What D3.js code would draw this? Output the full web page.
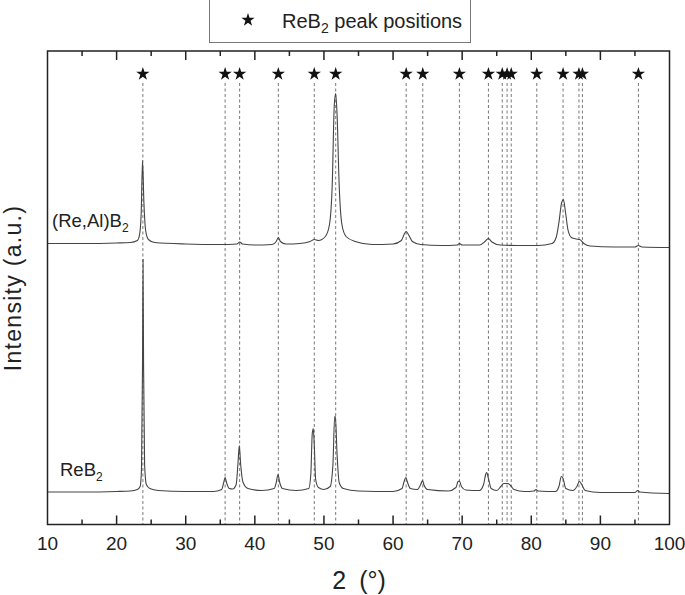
<!DOCTYPE html>
<html><head><meta charset="utf-8">
<script src="https://cdn.jsdelivr.net/npm/d3@7"></script>
<style>
body{margin:0;background:#fff;}
svg{display:block;font-family:"Liberation Sans",Arial,Helvetica,sans-serif;}
</style></head>
<body><svg id="c" width="685" height="595"></svg>
<script>
// ---- data ----
const xTicksMajor = [10,20,30,40,50,60,70,80,90,100];
const xTicksMinor = [15,25,35,45,55,65,75,85,95];
const peakPositions = [23.8,35.7,37.8,43.4,48.6,51.7,61.9,64.3,69.6,73.8,75.8,76.5,77.1,80.8,84.6,86.9,87.4,95.5];
// ReB2 pattern [2theta, intensity a.u.]
const reb2 = [[10,32.5],[15,32.5],[20,33],[22,33.5],[23,35],[23.4,38],[23.6,55],[23.75,160],[23.82,265],[23.9,160],[24.05,60],[24.3,40],[24.8,36],[26,34],[30,33],[34,33],
[35.2,35],[35.5,42],[35.7,47],[35.9,42],[36.3,36],[36.8,35.5],[37.3,40],[37.55,60],[37.75,79],[37.95,60],[38.3,42],[39,36],[41,34],[42.8,36],[43.1,42],[43.35,50],[43.6,42],[44,36],[46,34],
[47.8,36],[48.1,50],[48.3,90],[48.45,96],[48.6,80],[48.8,45],[49.2,37],[50,35],[50.9,38],[51.3,60],[51.55,108],[51.65,108],[51.9,70],[52.2,42],[52.8,36],[55,33.5],[60,33],
[61.3,36],[61.6,43],[61.85,47],[62.1,42],[62.5,36],[63.5,35],[64,40],[64.25,44],[64.5,39],[65,35],[68,33.5],[69.1,37],[69.4,43],[69.6,43.5],[69.9,38],[70.5,34.5],[72.5,34],
[73.1,40],[73.4,50],[73.55,52],[73.8,46],[74.2,36],[75,34],[75.6,38],[76,41],[76.6,41],[77,39],[77.5,35],[79,33],[80.4,33.5],[80.7,35],[81,33.5],[83.5,33],[84,38],[84.35,48],[84.6,46],[85,36],[86,34],
[86.6,38],[86.95,43],[87.3,40],[87.8,34],[90,32],[95,32],[95.4,34],[95.7,32.5],[100,31]];
// (Re,Al)B2 pattern [2theta, intensity a.u.]
const realb2 = [[10,281],[15,281],[20,281.5],[22,282],[23,284],[23.3,289],[23.55,310],[23.75,364],[23.95,322],[24.2,294],[24.6,285],[25.5,282],[30,280.5],[35,280],[37.4,280.5],[37.8,282.5],[38.2,280.5],[40,279.5],
[42.5,280],[43.1,283],[43.4,287],[43.7,283],[44.5,280.5],[46.5,281],[48,283],[48.6,285],[49.2,284],[50.2,288],[50.8,300],[51.2,340],[51.5,420],[51.7,431],[51.9,410],[52.2,340],[52.6,300],[53.2,288],[54.5,283],
[57,280],[60,280.5],[61.2,284],[61.6,290],[61.9,293],[62.3,289],[62.8,283],[64,280],[67,279],[69.3,279.5],[69.6,281],[70,279.5],[72.5,279.5],[73.3,283],[73.8,286],[74.3,282.5],[75.5,279.5],[78,279],[81,279],
[83,281],[83.6,287],[84,302],[84.4,322],[84.65,325],[84.9,315],[85.3,295],[85.8,287],[86.5,285.5],[87,285],[87.6,281],[88.5,278.5],[92,277.5],[95,277.5],[95.5,279],[96,277.5],[100,277]];
const seriesLabels = ["(Re,Al)B", "ReB"];
const legendLabel = "ReB";

// ---- layout ----
const svg = d3.select("#c");
const L = 47.5, R = 669.5, T = 51, B = 524.5;
const x = d3.scaleLinear().domain([10,100]).range([L,R]);
const y = d3.scaleLinear().domain([0,473.5]).range([B,T]);

// dashed peak lines
svg.append("g").selectAll("line").data(peakPositions).join("line")
  .attr("x1", d=>x(d)).attr("x2", d=>x(d)).attr("y1", 83).attr("y2", B)
  .attr("stroke","#555").attr("stroke-width",0.8).attr("stroke-dasharray","3,2.5");

// stars
svg.append("g").selectAll("path").data(peakPositions).join("path")
  .attr("d", d3.symbol(d3.symbolStar, 55))
  .attr("transform", d=>`translate(${x(d)},74)`).attr("fill","#111");

// traces
const line = d3.line().x(d=>x(d[0])).y(d=>y(d[1])).curve(d3.curveMonotoneX);
[reb2, realb2].forEach(s=>{
  svg.append("path").datum(s).attr("d", line).attr("fill","none")
    .attr("stroke","#444").attr("stroke-width",1.1);
});

// axes
const ax = svg.append("g").attr("stroke","#222").attr("fill","none");
ax.append("rect").attr("x",L).attr("y",T).attr("width",R-L).attr("height",B-T).attr("stroke-width",1.5);
const tickG = svg.append("g").attr("stroke","#222").attr("stroke-width",1.5);
xTicksMajor.slice(1,-1).forEach(v=>{
  tickG.append("line").attr("x1",x(v)).attr("x2",x(v)).attr("y1",B).attr("y2",B-9);
  tickG.append("line").attr("x1",x(v)).attr("x2",x(v)).attr("y1",T).attr("y2",T+9);
});
xTicksMinor.forEach(v=>{
  tickG.append("line").attr("x1",x(v)).attr("x2",x(v)).attr("y1",B).attr("y2",B-5);
  tickG.append("line").attr("x1",x(v)).attr("x2",x(v)).attr("y1",T).attr("y2",T+5);
});
svg.append("g").selectAll("text").data(xTicksMajor).join("text")
  .attr("x", d=>x(d)).attr("y", 550).attr("text-anchor","middle")
  .attr("font-size",19).attr("fill","#222").text(d=>d);

// axis titles
const xt = svg.append("text").attr("x",359).attr("y",589).attr("text-anchor","middle")
  .attr("font-size",25).attr("fill","#222");
xt.append("tspan").text("2");
xt.append("tspan").attr("dx",13).text("(°)");
svg.append("text").attr("transform","translate(21,288) rotate(-90)").attr("text-anchor","middle")
  .attr("font-size",23).attr("letter-spacing",1.3).attr("fill","#222").text("Intensity (a.u.)");

// series labels
function subLabel(xp, yp, base, fs){
  const t = svg.append("text").attr("x",xp).attr("y",yp).attr("font-size",fs).attr("fill","#222");
  t.append("tspan").text(base);
  t.append("tspan").attr("font-size",fs*0.65).attr("dy",5).text("2");
  return t;
}
subLabel(52, 227, seriesLabels[0], 18.5);
subLabel(60, 476, seriesLabels[1], 18.5);

// legend
svg.append("rect").attr("x",209.5).attr("y",-1).attr("width",261).attr("height",43.5)
  .attr("fill","#fff").attr("stroke","#777").attr("stroke-width",1);
svg.append("path").attr("d", d3.symbol(d3.symbolStar, 55)).attr("transform","translate(248,20)").attr("fill","#111");
const lg = svg.append("text").attr("x",282).attr("y",28).attr("font-size",20).attr("fill","#222");
lg.append("tspan").text(legendLabel);
lg.append("tspan").attr("font-size",14).attr("dy",5).text("2");
lg.append("tspan").attr("dy",-5).text(" peak positions");
</script></body></html>
